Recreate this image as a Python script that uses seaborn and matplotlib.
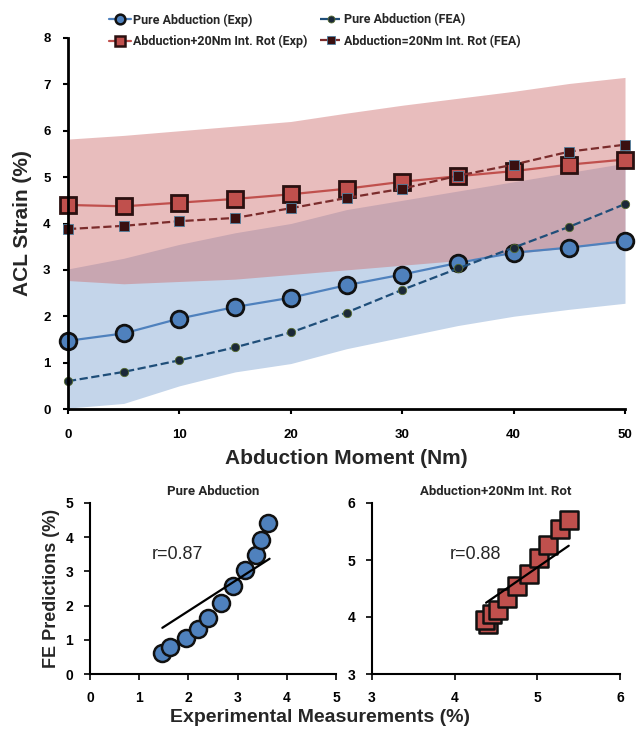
import numpy as np
import pandas as pd
import matplotlib
matplotlib.use("Agg")
import matplotlib.pyplot as plt
import seaborn as sns

# abduction moment (Nm)
moment = [0, 5, 10, 15, 20, 25, 30, 35, 40, 45, 50]

# ACL strain (%)
pure_exp = [1.47, 1.63, 1.95, 2.20, 2.40, 2.67, 2.90, 3.15, 3.37, 3.48, 3.62]
pure_fea = [0.60, 0.80, 1.05, 1.33, 1.65, 2.08, 2.57, 3.03, 3.48, 3.93, 4.42]
rot_exp = [4.40, 4.37, 4.45, 4.53, 4.63, 4.75, 4.90, 5.02, 5.13, 5.27, 5.38]
rot_fea = [3.88, 3.95, 4.05, 4.12, 4.33, 4.55, 4.75, 5.03, 5.27, 5.55, 5.70]

# shaded ranges of the experiments
pure_lo = [0.02, 0.12, 0.50, 0.80, 0.98, 1.30, 1.55, 1.80, 2.00, 2.15, 2.28]
pure_hi = [3.02, 3.25, 3.55, 3.80, 4.00, 4.30, 4.50, 4.70, 4.90, 5.10, 5.30]
rot_lo = [2.77, 2.70, 2.75, 2.80, 2.90, 3.00, 3.10, 3.20, 3.35, 3.48, 3.60]
rot_hi = [5.82, 5.90, 6.00, 6.10, 6.20, 6.38, 6.55, 6.70, 6.85, 7.02, 7.15]

# trend lines drawn on the comparison plots (x0, x1), (y0, y1)
fit_pure_x = [1.47, 3.65]
fit_pure_y = [1.35, 3.37]
fit_rot_x = [4.38, 5.38]
fit_rot_y = [4.25, 5.25]

r_pure = "r=0.87"
r_rot = "r=0.88"

sns.set_style("white")
plt.rcParams['font.family'] = ['Liberation Sans', 'DejaVu Sans']
narrow = ['Roboto', 'Liberation Sans', 'DejaVu Sans']

blue = "#4f81bd"
red = "#c0504d"
dkblue = "#1f4e79"
dkred = "#7b2c2c"

df = pd.DataFrame({"moment": moment, "pure_exp": pure_exp, "pure_fea": pure_fea,
                   "rot_exp": rot_exp, "rot_fea": rot_fea})

fig = plt.figure(figsize=(6.39, 7.33), dpi=100)
ax = fig.add_axes([68/639, 1 - 409/733, 557/639, 371/733])

ax.fill_between(moment, pure_lo, pure_hi, color="#c4d5ea", lw=0)
ax.fill_between(moment, rot_lo, rot_hi, color="#ce6d6d", alpha=0.45, lw=0)

sns.lineplot(data=df, x="moment", y="pure_exp", ax=ax, color=blue, lw=1.6,
             marker="o", markersize=12, markerfacecolor=blue, markeredgecolor="#111111",
             markeredgewidth=2, label="Pure Abduction (Exp)", clip_on=False)
sns.lineplot(data=df, x="moment", y="pure_fea", ax=ax, color=dkblue, lw=1.6,
             linestyle="--", marker="o", markersize=6, markerfacecolor="#1b2838",
             markeredgecolor="#556b2f", markeredgewidth=0.6, label="Pure Abduction (FEA)",
             clip_on=False)
sns.lineplot(data=df, x="moment", y="rot_exp", ax=ax, color=red, lw=1.6,
             marker="s", markersize=12, markerfacecolor=red, markeredgecolor="#2a1010",
             markeredgewidth=2, label="Abduction+20Nm Int. Rot (Exp)", clip_on=False)
sns.lineplot(data=df, x="moment", y="rot_fea", ax=ax, color=dkred, lw=1.6,
             linestyle="--", marker="s", markersize=7, markerfacecolor="#3a1010",
             markeredgecolor="#4f7f9f", markeredgewidth=0.6,
             label="Abduction=20Nm Int. Rot (FEA)", clip_on=False)

handles, labels = ax.get_legend_handles_labels()
ax.get_legend().remove()
order = [0, 2, 1, 3]
leg = fig.legend([handles[i] for i in order], [labels[i] for i in order],
                 loc="upper left", bbox_to_anchor=(98/639, 1 - 2/733), ncol=2,
                 frameon=False, handlelength=1.7, columnspacing=1.0,
                 labelspacing=0.65, handletextpad=0.2,
                 prop={"family": narrow, "weight": "bold", "size": 9})
for h, ms in zip(leg.legend_handles, [7, 7, 5, 5.5]):
    h.set_markersize(ms)
    h.set_markeredgewidth(1.8 if ms > 6 else 0.6)

ax.set_xlim(0, 50)
ax.set_ylim(0, 8)
ax.set_xticks(range(0, 51, 10))
ax.set_yticks(range(0, 9))
for s in ["top", "right"]:
    ax.spines[s].set_visible(False)
for s in ["left", "bottom"]:
    ax.spines[s].set_color("black")
    ax.spines[s].set_linewidth(2)
ax.tick_params(direction="out", length=3.5, width=1.5, colors="black", labelsize=9.5,
               bottom=True, left=True)
ax.tick_params(axis="x", pad=11)
ax.tick_params(axis="y", pad=9)
for t in ax.get_xticklabels() + ax.get_yticklabels():
    t.set_fontweight("bold")
ax.set_xlabel("Abduction Moment (Nm)", fontsize=15, fontweight="bold", labelpad=6)
ax.set_ylabel("ACL Strain (%)", fontsize=15, fontweight="bold", labelpad=8)

# scatter comparisons
ax1 = fig.add_axes([90/639, 1 - 674/733, 246/639, 171/733])
ax2 = fig.add_axes([372/639, 1 - 674/733, 248/639, 171/733])

sns.scatterplot(x=pure_exp, y=pure_fea, ax=ax1, marker="o", s=150, color=blue,
                edgecolor="#111111", linewidth=1.8, zorder=3)
sns.lineplot(x=fit_pure_x, y=fit_pure_y, ax=ax1, color="black", lw=1.6, zorder=4)
sns.scatterplot(x=rot_exp, y=rot_fea, ax=ax2, marker="s", s=160, color=red,
                edgecolor="#111111", linewidth=1.8, zorder=3)
sns.lineplot(x=fit_rot_x, y=fit_rot_y, ax=ax2, color="black", lw=1.6, zorder=4)

ax1.set_xlim(0, 5)
ax1.set_ylim(0, 5)
ax2.set_xlim(3, 6)
ax2.set_ylim(3, 6)
ax1.text(1.25, 3.5, r_pure, fontsize=13, va="center")
ax2.text(3.94, 5.09, r_rot, fontsize=13, va="center")
ax1.set_title("Pure Abduction", fontsize=9.5, fontweight="bold", pad=6, family=narrow)
ax2.set_title("Abduction+20Nm Int. Rot", fontsize=9.5, fontweight="bold", pad=6, family=narrow)

for a in [ax1, ax2]:
    for s in ["top", "right"]:
        a.spines[s].set_visible(False)
    for s in ["left", "bottom"]:
        a.spines[s].set_color("black")
        a.spines[s].set_linewidth(1.5)
    a.tick_params(direction="out", length=4, width=1.2, colors="black", labelsize=10,
                  bottom=True, left=True, pad=8)
ax1.set_xticks(range(0, 6))
ax1.set_yticks(range(0, 6))
ax2.set_xticks(range(3, 7))
ax2.set_yticks(range(3, 7))
for a in [ax1, ax2]:
    for t in a.get_xticklabels() + a.get_yticklabels():
        t.set_fontweight("bold")

ax1.set_ylabel("FE Predictions (%)", fontsize=13, fontweight="bold")
fig.text(320/639, 1 - 718/733, "Experimental Measurements (%)", ha="center", va="center",
         fontsize=14, fontweight="bold")

fig.savefig("out.png", dpi=100)
